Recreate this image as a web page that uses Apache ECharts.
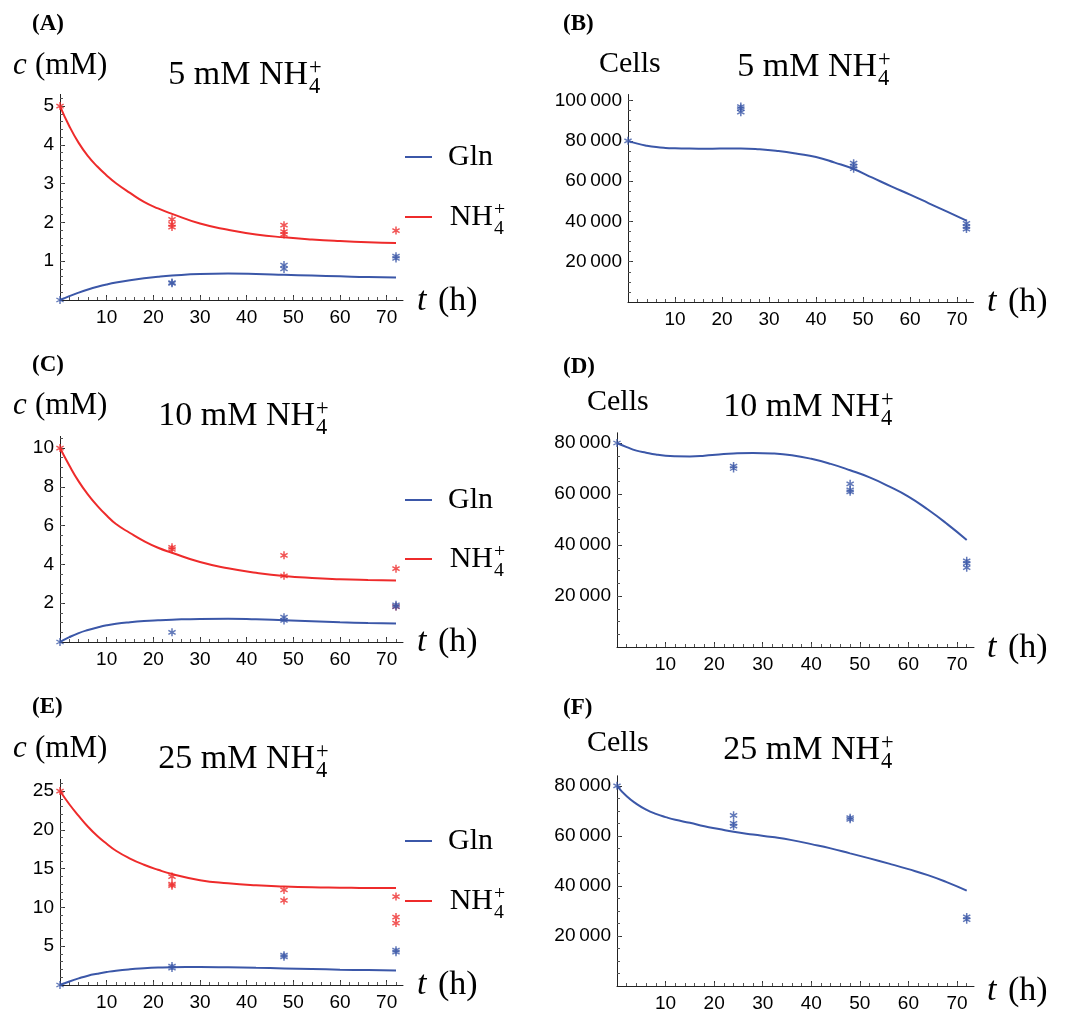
<!DOCTYPE html>
<html>
<head>
<meta charset="utf-8">
<script src="https://cdn.jsdelivr.net/npm/echarts@6/dist/echarts.min.js"></script>
<style>html,body{margin:0;padding:0;background:#fff}#c{width:1070px;height:1013px}</style>
</head>
<body>
<div id="c"></div>
<script>
// ---------------- DATA ----------------
const fitTimeConc = [0,2,4,6,8,10,12,15,18,21,24,30,36,42,48,54,60,66,72];
const nh4FitA = [5.0,4.48,4.05,3.71,3.44,3.21,3.01,2.76,2.53,2.36,2.22,1.97,1.81,1.69,1.615,1.56,1.52,1.49,1.47];
const glnFitA = [0,0.1,0.19,0.27,0.34,0.4,0.45,0.51,0.56,0.6,0.63,0.67,0.68,0.67,0.65,0.63,0.61,0.59,0.58];
const nh4FitC = [10,9.1,8.28,7.6,7.02,6.52,6.08,5.62,5.2,4.86,4.6,4.12,3.8,3.57,3.4,3.3,3.24,3.2,3.17];
const glnFitC = [0,0.25,0.46,0.62,0.75,0.86,0.94,1.02,1.08,1.12,1.15,1.19,1.2,1.17,1.12,1.07,1.02,0.98,0.95];
const nh4FitE = [25,23.3,21.8,20.4,19.2,18.2,17.3,16.3,15.5,14.85,14.3,13.5,13.1,12.85,12.7,12.6,12.55,12.5,12.5];
const glnFitE = [0,0.45,0.85,1.2,1.45,1.67,1.85,2.03,2.15,2.24,2.3,2.32,2.28,2.21,2.14,2.06,1.98,1.92,1.87];

const fitTimeCells = [0,2,4,6,8,10,12,15,18,21,24,28,32,36,40,44,48,52,56,60,64,68,72];
const cellsFitB = [80000,78600,77600,76900,76500,76300,76200,76100,76100,76200,76200,75800,74900,73600,72000,69200,66000,61700,57400,53300,49000,44700,40400];
const cellsFitD = [80000,78400,77000,76200,75500,75000,74800,74750,75000,75500,75900,76100,75900,75200,73800,71800,69300,66500,63000,59000,53900,48200,42000];
const cellsFitF = [80000,75800,72800,70500,68800,67500,66400,65200,63800,62700,61600,60500,59500,58300,56700,55000,53000,51000,48900,46700,44300,41400,38100];

const nh4ObsA = [[0,5.0],[24,2.08],[24,1.95],[24,1.88],[48,1.93],[48,1.76],[48,1.69],[72,1.79]];
const glnObsA = [[0,0],[24,0.43],[24,0.45],[48,0.9],[48,0.8],[72,1.13],[72,1.07]];
const cellsObsB = [[0,80000],[24,97000],[24,96000],[24,94200],[48,68900],[48,67500],[48,66200],[72,39000],[72,37400],[72,36200]];
const nh4ObsC = [[0,10],[24,4.88],[24,4.78],[48,4.47],[48,3.41],[72,3.78],[72,1.83]];
const glnObsC = [[0,0],[24,0.5],[48,1.28],[48,1.11],[72,1.92],[72,1.83]];
const cellsObsD = [[0,80000],[24,70950],[24,70000],[48,64000],[48,61600],[48,60850],[72,33800],[72,32800],[72,31100]];
const nh4ObsE = [[0,25],[24,13.97],[24,13.0],[24,12.8],[48,12.26],[48,10.9],[72,11.4],[72,8.76],[72,7.99]];
const glnObsE = [[0,0],[24,2.44],[24,2.18],[48,3.85],[48,3.63],[72,4.49],[72,4.23]];
const cellsObsF = [[0,80000],[24,68200],[24,65000],[24,63900],[48,67250],[48,66600],[72,27600],[72,26500]];

const xTickLabels = [10,20,30,40,50,60,70];
const yTicksA = [1,2,3,4,5];
const yTicksC = [2,4,6,8,10];
const yTicksE = [5,10,15,20,25];
const yTicksB = [20000,40000,60000,80000,100000];
const yTicksDF = [20000,40000,60000,80000];

const titles = ['5 mM NH','5 mM NH','10 mM NH','10 mM NH','25 mM NH','25 mM NH'];
const panelLetters = ['(A)','(B)','(C)','(D)','(E)','(F)'];
const legendNames = ['Gln','NH'];

// ---------------- LAYOUT / STYLE ----------------
const BLUE = '#3b57a8', RED = '#ee2b2b';
const SERIF = '"Liberation Serif", "Times New Roman", serif';
const SANS = '"Liberation Sans", Arial, sans-serif';
const STAR = 'path://M41 0L59 0L59 100L41 100Z M2.2 32.8L11.2 17.2L97.8 67.2L88.8 82.8Z M88.8 17.2L97.8 32.8L11.2 82.8L2.2 67.2Z';

function range(a, b, s){ const r=[]; for(let v=a; v<=b+1e-9; v+=s) r.push(Math.round(v*1000)/1000); return r; }
function fmt(v){ return String(v).replace(/\B(?=(\d{3})+(?!\d))/g, '\u2009'); }
function zip(t, v){ return t.map((x,i)=>[x, v[i]]); }

const panels = [
  {left:60, top:94.4, width:343, height:205.6, yMax:5.3, yMajor:yTicksA, yMinorStep:0.2},
  {left:628, top:94.5, width:345.5, height:207.5, yMax:103000, yMajor:yTicksB, yMinorStep:5000},
  {left:60, top:436.4, width:343, height:205.6, yMax:10.6, yMajor:yTicksC, yMinorStep:0.5},
  {left:617, top:432.8, width:357, height:214.2, yMax:84000, yMajor:yTicksDF, yMinorStep:5000},
  {left:60, top:779.4, width:343, height:205.6, yMax:26.5, yMajor:yTicksE, yMinorStep:1},
  {left:617, top:775.8, width:357, height:213.2, yMax:84000, yMajor:yTicksDF, yMinorStep:5000}
];
const X_MAX = 73.5;

const grid = [], xAxis = [], yAxis = [], series = [];
panels.forEach((p, i) => {
  grid.push({left:p.left, top:p.top, width:p.width, height:p.height, containLabel:false});
  xAxis.push({type:'value', gridIndex:i, min:0, max:X_MAX, position:'bottom',
    axisLine:{show:true, onZero:false, lineStyle:{color:'#222', width:1}},
    axisTick:{show:true, inside:true, length:5, customValues:xTickLabels, lineStyle:{color:'#333'}},
    axisLabel:{show:true, customValues:xTickLabels, margin:8, fontSize:19, fontFamily:SANS, color:'#000'},
    splitLine:{show:false}});
  xAxis.push({type:'value', gridIndex:i, min:0, max:X_MAX, position:'bottom',
    axisLine:{show:false, onZero:false},
    axisTick:{show:true, inside:true, length:3, customValues:range(2,72,2), lineStyle:{color:'#555'}},
    axisLabel:{show:false}, splitLine:{show:false}});
  yAxis.push({type:'value', gridIndex:i, min:0, max:p.yMax, position:'left',
    axisLine:{show:true, onZero:false, lineStyle:{color:'#222', width:1}},
    axisTick:{show:true, inside:true, length:5, customValues:p.yMajor, lineStyle:{color:'#333'}},
    axisLabel:{show:true, customValues:p.yMajor, margin:6, fontSize:19, fontFamily:SANS, color:'#000', formatter:fmt},
    splitLine:{show:false}});
  yAxis.push({type:'value', gridIndex:i, min:0, max:p.yMax, position:'left',
    axisLine:{show:false, onZero:false},
    axisTick:{show:true, inside:true, length:3, customValues:range(p.yMinorStep, p.yMax, p.yMinorStep), lineStyle:{color:'#555'}},
    axisLabel:{show:false}, splitLine:{show:false}});
});

function lineS(i, data, color){
  return {type:'line', xAxisIndex:2*i, yAxisIndex:2*i, data, showSymbol:false, smooth:0.5,
    lineStyle:{color, width:2}, itemStyle:{color}, z:2, silent:true};
}
function dotS(i, data, color){
  return {type:'scatter', xAxisIndex:2*i, yAxisIndex:2*i, data, symbol:STAR, symbolSize:8,
    itemStyle:{color}, z:3, silent:true};
}
series.push(lineS(0, zip(fitTimeConc, nh4FitA), RED), lineS(0, zip(fitTimeConc, glnFitA), BLUE),
            dotS(0, nh4ObsA, RED), dotS(0, glnObsA, BLUE));
series.push(lineS(1, zip(fitTimeCells, cellsFitB), BLUE), dotS(1, cellsObsB, BLUE));
series.push(lineS(2, zip(fitTimeConc, nh4FitC), RED), lineS(2, zip(fitTimeConc, glnFitC), BLUE),
            dotS(2, nh4ObsC, RED), dotS(2, glnObsC, BLUE));
series.push(lineS(3, zip(fitTimeCells, cellsFitD), BLUE), dotS(3, cellsObsD, BLUE));
series.push(lineS(4, zip(fitTimeConc, nh4FitE), RED), lineS(4, zip(fitTimeConc, glnFitE), BLUE),
            dotS(4, nh4ObsE, RED), dotS(4, glnObsE, BLUE));
series.push(lineS(5, zip(fitTimeCells, cellsFitF), BLUE), dotS(5, cellsObsF, BLUE));

// ---------------- TEXT (graphic) ----------------
const G = [];
function txt(x, y, s, size, o){
  o = o || {};
  G.push({type:'text', x, y, silent:true, style:{text:s, fontSize:size, fontFamily:o.family||SERIF,
    fontStyle:o.italic?'italic':'normal', fontWeight:o.bold?'bold':'normal', fill:'#000',
    textAlign:o.align||'left', textVerticalAlign:'middle'}});
}
function nh4(xEnd, y, size, text){
  txt(xEnd, y, text, size, {align:'right'});
  txt(xEnd + 1, y - 7, '+', size*0.66);
  txt(xEnd + 1, y + 12, '4', size*0.66);
}
const titlePos = [[308,75.5],[877,67.5],[315,416],[880,407.5],[315,759.5],[880,750]];
titles.forEach((t,i)=> nh4(titlePos[i][0], titlePos[i][1], 34, t));

const letterPos = [[32,24],[563,24],[32,365],[563,367],[32,707],[563,708]];
panelLetters.forEach((t,i)=> txt(letterPos[i][0], letterPos[i][1], t, 23, {bold:true}));

// y-axis titles
[[13,66],[13,406],[13,749]].forEach(p=>{ txt(p[0], p[1], 'c', 31, {italic:true}); txt(p[0]+22, p[1], '(mM)', 31); });
[[599,64],[587,402.5],[587,743]].forEach(p=> txt(p[0], p[1], 'Cells', 30));
// x-axis titles
[[417,301],[987,302],[417,642],[987,648],[417,985],[987,991]].forEach(p=>{ txt(p[0], p[1], 't', 34, {italic:true}); txt(p[0]+21, p[1], '(h)', 34); });

// legends
[[157,217],[500,559],[841,901]].forEach(ys=>{
  G.push({type:'line', silent:true, shape:{x1:405, y1:ys[0], x2:432, y2:ys[0]}, style:{stroke:BLUE, lineWidth:2}});
  G.push({type:'line', silent:true, shape:{x1:405, y1:ys[1], x2:432, y2:ys[1]}, style:{stroke:RED, lineWidth:2}});
  txt(448, ys[0], legendNames[0], 30);
  nh4(493, ys[1], 30, legendNames[1]);
});

const chart = echarts.init(document.getElementById('c'), null, {renderer:'canvas'});
chart.setOption({animation:false, backgroundColor:'#fff', grid, xAxis, yAxis, series, graphic:{elements:G}});
</script>
</body>
</html>
